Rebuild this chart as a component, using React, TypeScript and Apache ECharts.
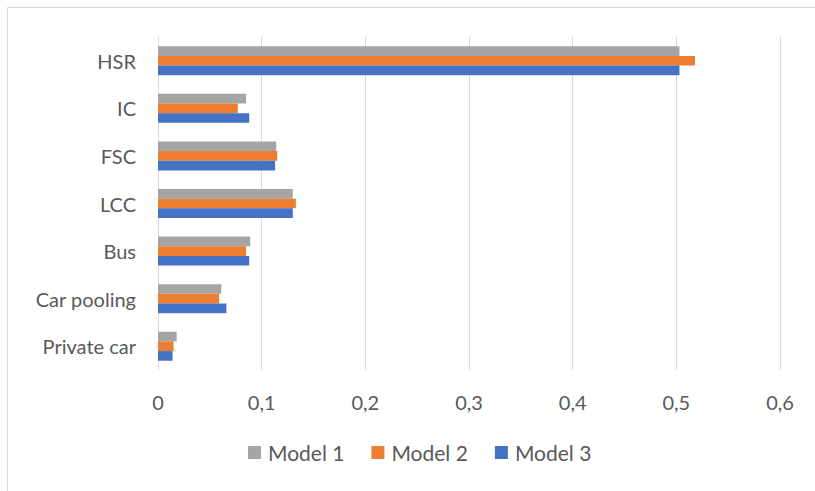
import React, { useEffect, useRef } from "react";
import * as echarts from "echarts";

// Modes, listed from the bottom of the axis to the top
const categories = ["Private car", "Car pooling", "Bus", "LCC", "FSC", "IC", "HSR"];
const model1 = [0.018, 0.061, 0.089, 0.130, 0.114, 0.085, 0.503];
const model2 = [0.015, 0.059, 0.085, 0.133, 0.115, 0.077, 0.518];
const model3 = [0.014, 0.066, 0.088, 0.130, 0.113, 0.088, 0.503];
const seriesNames = ["Model 1", "Model 2", "Model 3"];
const colors = ["#A5A5A5", "#ED7D31", "#4472C4"];

const FONT = "Lato, 'Open Sans', sans-serif";
const TEXT = "#595959";
const GRID = "#D9D9D9";

export default function App() {
  const ref = useRef<HTMLDivElement>(null);

  useEffect(() => {
    if (!ref.current) return;
    const chart = echarts.init(ref.current, null, { renderer: "svg" });
    const values = [model1, model2, model3];
    chart.setOption({
      animation: false,
      backgroundColor: "#FFFFFF",
      textStyle: { fontFamily: FONT },
      graphic: [
        {
          type: "rect",
          shape: { x: 7.5, y: 7.5, width: 900, height: 600 },
          style: { fill: "none", stroke: GRID, lineWidth: 1 },
          silent: true,
        },
      ],
      legend: {
        data: seriesNames,
        top: 437,
        left: 243,
        itemWidth: 13,
        itemHeight: 13,
        itemGap: 27,
        icon: "rect",
        textStyle: { color: TEXT, fontSize: 21, fontFamily: FONT, padding: [0, 0, 0, 2] },
      },
      grid: { left: 158, right: 35, top: 37, bottom: 121, containLabel: false },
      xAxis: {
        type: "value",
        min: 0,
        max: 0.6,
        interval: 0.1,
        axisLine: { show: false },
        axisTick: { show: false },
        splitLine: { lineStyle: { color: GRID, width: 1 } },
        axisLabel: {
          color: TEXT,
          fontSize: 20,
          fontFamily: FONT,
          margin: 22,
          formatter: (v: number) => String(Math.round(v * 10) / 10).replace(".", ","),
        },
      },
      yAxis: {
        type: "category",
        data: categories,
        axisLine: { show: true, lineStyle: { color: GRID, width: 1 } },
        axisTick: { show: false },
        axisLabel: { color: TEXT, fontSize: 20, fontFamily: FONT, margin: 22 },
      },
      series: seriesNames.map((name, i) => ({
        name,
        type: "bar",
        data: values[i],
        barGap: "0%",
        barCategoryGap: "39%",
        itemStyle: { color: colors[i] },
      })),
    });
    return () => chart.dispose();
  }, []);

  return (
    <div
      ref={ref}
      style={{ position: "fixed", left: 0, top: 0, width: 815, height: 491 }}
    />
  );
}
